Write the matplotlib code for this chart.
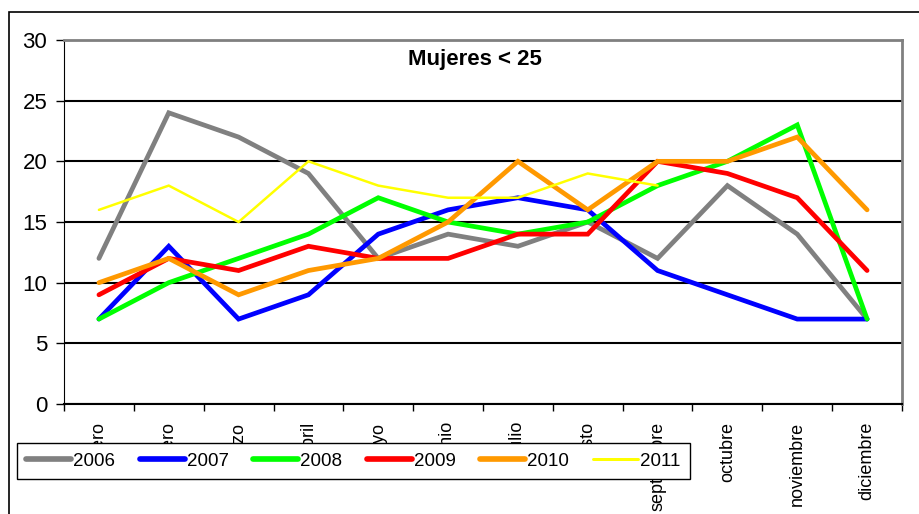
import matplotlib
matplotlib.use("Agg")
import matplotlib.pyplot as plt
from matplotlib.patches import Rectangle

plt.rcParams['font.family'] = ['Liberation Sans', 'DejaVu Sans']

# ---- data --------------------------------------------------------------
meses = ["enero", "febrero", "marzo", "abril", "mayo", "junio", "julio",
         "agosto", "septiembre", "octubre", "noviembre", "diciembre"]

y2006 = [12, 24, 22, 19, 12, 14, 13, 15, 12, 18, 14, 7]
y2007 = [7, 13, 7, 9, 14, 16, 17, 16, 11, 9, 7, 7]
y2008 = [7, 10, 12, 14, 17, 15, 14, 15, 18, 20, 23, 7]
y2009 = [9, 12, 11, 13, 12, 12, 14, 14, 20, 19, 17, 11]
y2010 = [10, 12, 9, 11, 12, 15, 20, 16, 20, 20, 22, 16]
y2011 = [16, 18, 15, 20, 18, 17, 17, 19, 18]   # only up to septiembre

series = [
    ("2006", y2006, "#808080", 3.4),
    ("2007", y2007, "#0000ff", 3.4),
    ("2008", y2008, "#00ff00", 3.4),
    ("2009", y2009, "#ff0000", 3.4),
    ("2010", y2010, "#ff9900", 3.4),
    ("2011", y2011, "#ffff00", 1.8),
]

# ---- figure ------------------------------------------------------------
fig = plt.figure(figsize=(9.19, 5.14), dpi=100)
W, H = 919, 514
ax = fig.add_axes([64 / W, 1 - 404 / H, (902 - 64) / W, (404 - 40) / H])

# outer chart frame (only left + top are visible)
fig.add_artist(Rectangle((9 / W, -0.1), 1.2, 1.1 - 12 / H, transform=fig.transFigure,
                         fill=False, edgecolor="black", linewidth=1.2))

for name, vals, col, lw in series:
    ax.plot(range(len(vals)), vals, color=col, linewidth=lw, label=name,
            solid_capstyle="round", solid_joinstyle="miter")

ax.set_xlim(-0.5, 11.5)
ax.set_ylim(0, 30)
ax.set_yticks(range(0, 31, 5))
ax.tick_params(axis="y", labelsize=16, length=6, width=1, direction="out", pad=6)
ax.yaxis.grid(True, color="black", linewidth=1.5)
ax.set_axisbelow(True)

# category ticks sit between the months, labels in the middle
ax.set_xticks([i - 0.5 for i in range(13)], minor=False)
ax.set_xticklabels([])
ax.tick_params(axis="x", length=5, width=1, direction="out")
ax.set_xticks(range(12), minor=True)
ax.set_xticklabels(meses, minor=True, rotation=90, fontsize=13, va="top")
ax.tick_params(axis="x", which="minor", length=0, pad=13)

for s in ("top", "right"):
    ax.spines[s].set_color("#808080")
    ax.spines[s].set_linewidth(2)
ax.spines["left"].set_color("black")
ax.spines["bottom"].set_color("black")
ax.spines["bottom"].set_linewidth(1.5)

ax.text(0.49, 0.975, "Mujeres < 25", transform=ax.transAxes, ha="center", va="top",
        fontsize=16, fontweight="bold", fontstretch="condensed",
        family=["Liberation Sans Narrow", "Liberation Sans", "DejaVu Sans"])

leg = fig.legend(loc="lower left", bbox_to_anchor=(17 / W, 1 - 479 / H, (690 - 17) / W, (479 - 441) / H),
                 mode="expand", ncol=6, fontsize=13.5, frameon=True, fancybox=False,
                 handlelength=2.4, handletextpad=0.1, columnspacing=1.2,
                 borderaxespad=0, borderpad=0.5)
leg.get_frame().set_edgecolor("black")
leg.get_frame().set_linewidth(1)
leg.get_frame().set_alpha(1)
leg.set_zorder(10)
for ln in leg.get_lines():
    ln.set_linewidth(ln.get_linewidth() * 1.2)

fig.savefig("out.png", dpi=100)
